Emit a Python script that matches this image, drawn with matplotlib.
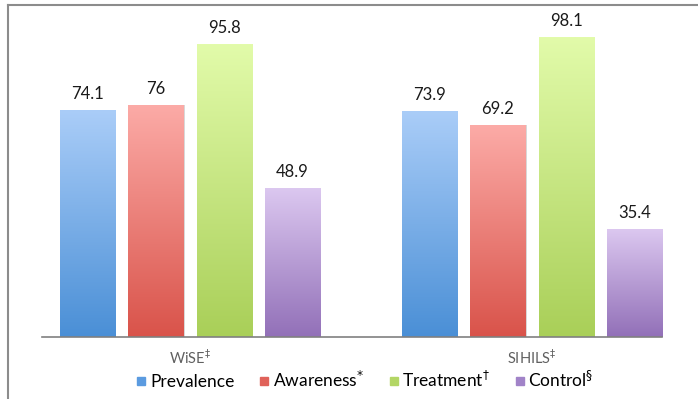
import matplotlib.pyplot as plt
from matplotlib.colors import LinearSegmentedColormap
from matplotlib.lines import Line2D
import numpy as np

plt.rcParams['font.family'] = ['Lato', 'DejaVu Sans']

groups = ["WiSE", "SIHILS"]
group_labels = ["WiSE$^{\u2021}$", "SIHILS$^{\u2021}$"]
measures = ["Prevalence", "Awareness", "Treatment", "Control"]
legend_labels = ["Prevalence", "Awareness$^{*}$", "Treatment$^{\u2020}$", "Control$^{\u00a7}$"]
values = {
    "Prevalence": [74.1, 73.9],
    "Awareness": [76, 69.2],
    "Treatment": [95.8, 98.1],
    "Control": [48.9, 35.4],
}
# (top colour, bottom colour) of each gradient
colors = {
    "Prevalence": ("#aacdf8", "#4a8fd6"),
    "Awareness": ("#fcaba7", "#d9534a"),
    "Treatment": ("#e2fbaa", "#a9cf58"),
    "Control": ("#dcc8f0", "#9270b8"),
}
legend_colors = ["#5b9be0", "#e0625a", "#b3d665", "#a183c8"]


def main():
    fig = plt.figure(figsize=(6.98, 3.99), dpi=100)
    ax = fig.add_axes([0.0602, 0.1554, 0.8883, 0.7945])

    x = np.arange(len(groups))
    step = 0.2
    width = 0.161
    grad = np.linspace(1, 0, 256).reshape(-1, 1)

    for i, m in enumerate(measures):
        pos = x + (i - 1.5) * step
        bars = ax.bar(pos, values[m], width, color='none', edgecolor='none')
        cmap = LinearSegmentedColormap.from_list(m, [colors[m][1], colors[m][0]])
        for bar, v in zip(bars, values[m]):
            bx, bw, bh = bar.get_x(), bar.get_width(), bar.get_height()
            # soft shadow on the right
            ax.bar(bx + bw / 2 + 0.004, bh, bw, color='#d8d8d8', zorder=1)
            im = ax.imshow(grad, extent=[bx, bx + bw, 0, bh], aspect='auto',
                           cmap=cmap, zorder=2)
            im.set_clip_path(bar)
            ax.text(bx + bw / 2, bh + 3.6, f"{v:g}", ha='center', va='baseline',
                    fontsize=12, color='#1a1a1a')

    ax.set_xlim(-0.432, 1.38)
    ax.set_ylim(0, 103.7)
    for s in ['left', 'right', 'top']:
        ax.spines[s].set_visible(False)
    ax.spines['bottom'].set_color('#808080')
    ax.spines['bottom'].set_linewidth(1.2)
    ax.set_yticks([])
    ax.set_xticks(x)
    ax.set_xticklabels(group_labels, fontsize=10.5, color='#606060')
    ax.tick_params(axis='x', length=0, pad=8)

    handles = [Line2D([], [], marker='s', markersize=5.5, color=c, linestyle='none')
               for c in legend_colors]
    fig.legend(handles, legend_labels, loc='center', bbox_to_anchor=(0.524, 0.047),
               ncol=4, frameon=False, fontsize=12.5, handlelength=0.4,
               handletextpad=0.3, columnspacing=1.5)

    # outer frame lines (top and left)
    fig.add_artist(Line2D([0.0108, 0.0108], [0.0, 0.988], color='#8c8c8c', lw=1.5,
                          transform=fig.transFigure))
    fig.add_artist(Line2D([0.0108, 1.0], [0.988, 0.988], color='#8c8c8c', lw=1.5,
                          transform=fig.transFigure))

    plt.savefig("out.png", dpi=100)
    plt.close()


if __name__ == "__main__":
    main()
